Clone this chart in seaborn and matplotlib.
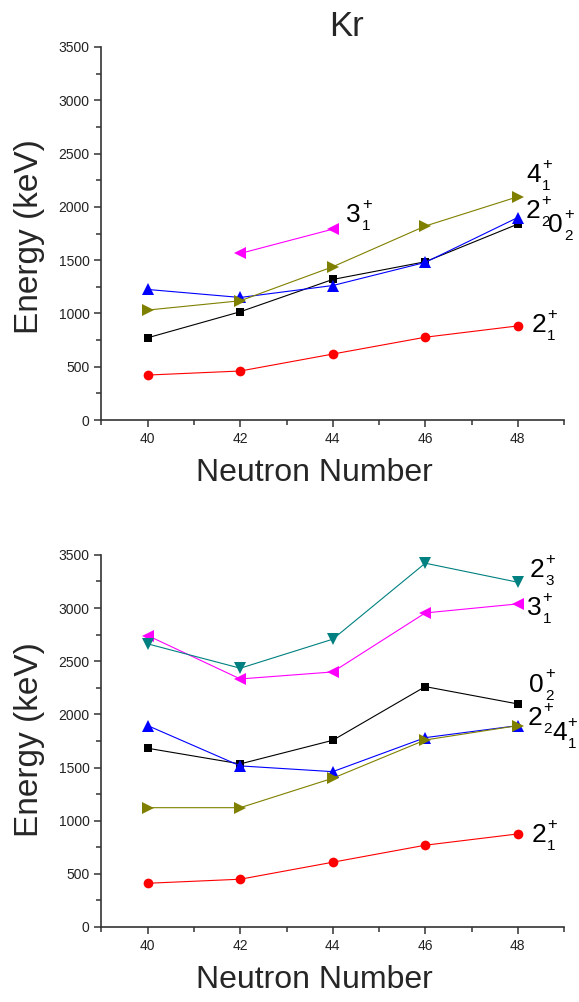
import matplotlib
matplotlib.use("Agg")
import matplotlib.pyplot as plt
from matplotlib.ticker import MultipleLocator
import seaborn as sns

# neutron numbers
N = [40, 42, 44, 46, 48]

# top panel (Kr, first set)
top_2_1 = [422, 460, 619, 777, 883]
top_0_2 = [772, 1016, 1319, 1485, 1838]
top_2_2 = [1225, 1150, 1262, 1479, 1900]
top_4_1 = [1032, 1119, 1438, 1820, 2095]
top_3_1_N = [42, 44]
top_3_1 = [1563, 1791]

# bottom panel
bot_2_1 = [411, 449, 609, 769, 875]
bot_4_1 = [1122, 1122, 1399, 1759, 1894]
bot_2_2 = [1894, 1515, 1461, 1781, 1894]
bot_0_2 = [1681, 1534, 1756, 2261, 2098]
bot_3_1 = [2741, 2333, 2399, 2954, 3039]
bot_2_3 = [2663, 2434, 2707, 3422, 3243]

# state labels: (spin, parity, index, x, y-baseline) in data units
top_labels = [
    ('4', '+', '1', 48.18, 2233),
    ('2', '+', '2', 48.16, 1895),
    ('0', '+', '2', 48.66, 1764),
    ('3', '+', '1', 44.29, 1858),
    ('2', '+', '1', 48.29, 826),
]
bot_labels = [
    ('2', '+', '3', 48.25, 3294),
    ('3', '+', '1', 48.20, 2936),
    ('0', '+', '2', 48.25, 2215),
    ('2', '+', '2', 48.22, 1901),
    ('4', '+', '1', 48.74, 1759),
    ('2', '+', '1', 48.29, 799),
]

sns.set_style("ticks")
plt.rcParams['font.family'] = ['Liberation Sans', 'DejaVu Sans']

fig = plt.figure(figsize=(5.79, 10.02), dpi=100)
ax1 = fig.add_axes([0.1753, 0.5808, 0.7988, 0.3723])
ax2 = fig.add_axes([0.1753, 0.0749, 0.7988, 0.3713])

def series(ax, x, y, color, marker, ms):
    sns.lineplot(x=x, y=y, ax=ax, color=color, marker=marker, markersize=ms,
                 markeredgewidth=0, linewidth=0.8, legend=False)

series(ax1, N, top_2_1, '#ff0000', 'o', 7)
series(ax1, N, top_0_2, '#000000', 's', 6)
series(ax1, N, top_2_2, '#0000ff', '^', 8)
series(ax1, N, top_4_1, '#808000', '>', 8)
series(ax1, top_3_1_N, top_3_1, '#ff00ff', '<', 8)

series(ax2, N, bot_2_1, '#ff0000', 'o', 7)
series(ax2, N, bot_0_2, '#000000', 's', 6)
series(ax2, N, bot_2_2, '#0000ff', '^', 8)
series(ax2, N, bot_4_1, '#808000', '>', 8)
series(ax2, N, bot_3_1, '#ff00ff', '<', 8)
series(ax2, N, bot_2_3, '#008080', 'v', 8)

def state_label(ax, base, sup, sub, x, y):
    kw = dict(textcoords='offset points', ha='left', va='baseline', color='black')
    ax.annotate(base, (x, y), xytext=(0, 0), fontsize=19, **kw)
    ax.annotate(sup, (x, y), xytext=(11.3, 9.5), fontsize=12, **kw)
    ax.annotate(sub, (x, y), xytext=(11.3, -6.0), fontsize=11, **kw)

for ax, labels in ((ax1, top_labels), (ax2, bot_labels)):
    for b, p, i, x, y in labels:
        state_label(ax, b, p, i, x, y)

for ax in (ax1, ax2):
    ax.set_xlim(39, 49)
    ax.set_ylim(0, 3500)
    ax.xaxis.set_major_locator(MultipleLocator(2))
    ax.xaxis.set_minor_locator(MultipleLocator(1))
    ax.yaxis.set_major_locator(MultipleLocator(500))
    ax.yaxis.set_minor_locator(MultipleLocator(250))
    ax.set_xticks([40, 42, 44, 46, 48])
    for s in ('top', 'right'):
        ax.spines[s].set_visible(False)
    for s in ('left', 'bottom'):
        ax.spines[s].set_linewidth(1.2)
        ax.spines[s].set_color('#333333')
    ax.tick_params(which='major', length=5, width=1.1, color='#333333',
                   labelsize=10, labelcolor='#222222', direction='out')
    ax.tick_params(which='minor', length=3.5, width=1.1, color='#333333',
                   direction='out')
    ax.set_xlabel('Neutron Number', fontsize=23)
    ax.set_ylabel('Energy (keV)', fontsize=24)
    ax.xaxis.set_label_coords(0.46, -0.103)
    ax.patch.set_alpha(0)

ax1.yaxis.set_label_coords(-0.122, 0.493)
ax2.yaxis.set_label_coords(-0.122, 0.503)
ax1.set_title('Kr', fontsize=25, x=0.529, pad=8)

fig.savefig('out.png', dpi=100)
